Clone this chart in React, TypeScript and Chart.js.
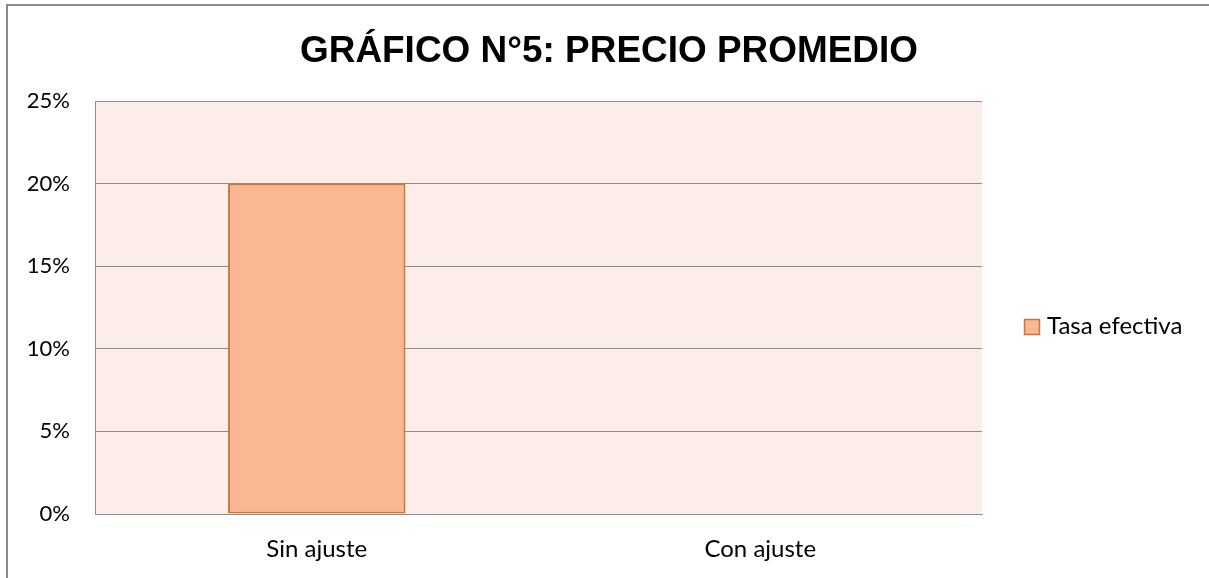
import React, { useEffect, useRef } from "react";
import { Chart, registerables } from "chart.js";

Chart.register(...registerables);

const titleText = "GRÁFICO N°5: PRECIO PROMEDIO";
const categories = ["Sin ajuste", "Con ajuste"];
const seriesLabel = "Tasa efectiva";
const seriesValues = [20, 0];
const yTicks = [0, 5, 10, 15, 20, 25];

const FILL = "#F9B793";
const EDGE = "#C4773F";
const GRID = "#8C8C8C";
const PLOT_BG = "#FCEDE8";
const FONT = "Lato, 'Open Sans', sans-serif";

const decorPlugin = {
  id: "decor",
  beforeDraw(chart: any) {
    const { ctx, chartArea } = chart;
    ctx.save();
    ctx.fillStyle = "#ffffff";
    ctx.fillRect(0, 0, chart.width, chart.height);
    ctx.fillStyle = PLOT_BG;
    ctx.fillRect(chartArea.left, chartArea.top, chartArea.right - chartArea.left, chartArea.bottom - chartArea.top);
    ctx.strokeStyle = "#8A8A8A";
    ctx.lineWidth = 2;
    ctx.beginPath();
    ctx.moveTo(7, chart.height + 2);
    ctx.lineTo(7, 5);
    ctx.lineTo(chart.width + 2, 5);
    ctx.stroke();
    ctx.restore();
  },
  afterDraw(chart: any) {
    const { ctx } = chart;
    ctx.save();
    // title
    ctx.fillStyle = "#000";
    ctx.font = "bold 36px 'Liberation Sans', Arial, sans-serif";
    ctx.textAlign = "center";
    ctx.textBaseline = "alphabetic";
    const w = ctx.measureText(titleText).width;
    const sx = 618 / w;
    ctx.translate(609, 62);
    ctx.scale(sx, 1);
    ctx.fillText(titleText, 0, 0);
    ctx.setTransform(1, 0, 0, 1, 0, 0);
    // legend
    const ds = chart.data.datasets[0];
    ctx.fillStyle = ds.backgroundColor;
    ctx.fillRect(1024.5, 319.5, 15, 15);
    ctx.strokeStyle = ds.borderColor;
    ctx.lineWidth = 1.5;
    ctx.strokeRect(1024.5, 319.5, 15, 15);
    ctx.fillStyle = "#000";
    ctx.font = "24px " + FONT;
    ctx.textAlign = "left";
    ctx.fillText(ds.label, 1047, 334);
    ctx.restore();
  },
};

export default function App() {
  const ref = useRef<HTMLCanvasElement>(null);
  useEffect(() => {
    if (!ref.current) return;
    const chart = new Chart(ref.current, {
      type: "bar",
      data: {
        labels: categories,
        datasets: [
          {
            label: seriesLabel,
            data: seriesValues,
            backgroundColor: FILL,
            borderColor: EDGE,
            borderWidth: 2,
            borderSkipped: false,
            barPercentage: 0.4,
            categoryPercentage: 1,
          },
        ],
      },
      options: {
        animation: false,
        responsive: false,
        maintainAspectRatio: false,
        devicePixelRatio: 1,
        layout: { padding: { left: 0, right: 227, top: 101, bottom: 0 } },
        plugins: {
          legend: { display: false },
          title: { display: false },
          tooltip: { enabled: false },
        },
        scales: {
          x: {
            grid: { display: false, drawTicks: false },
            border: { display: true, color: GRID, width: 1 },
            ticks: { color: "#000", font: { family: FONT, size: 24 }, padding: 21 },
            afterFit: (s: any) => {
              s.height = 64;
            },
          },
          y: {
            min: 0,
            max: 25,
            afterBuildTicks: (s: any) => {
              s.ticks = yTicks.map((v) => ({ value: v }));
            },
            grid: { color: GRID, lineWidth: 1, drawTicks: false },
            border: { display: true, color: GRID, width: 1 },
            ticks: {
              color: "#000",
              font: { family: FONT, size: 22 },
              padding: 25,
              callback: (v: any) => v + "%",
            },
            afterFit: (s: any) => {
              s.width = 95;
            },
          },
        },
      },
      plugins: [decorPlugin],
    });
    return () => chart.destroy();
  }, []);
  return (
    <div style={{ position: "fixed", left: 0, top: 0, width: 1209, height: 578 }}>
      <canvas ref={ref} width={1209} height={578} style={{ width: 1209, height: 578, display: "block" }} />
    </div>
  );
}
